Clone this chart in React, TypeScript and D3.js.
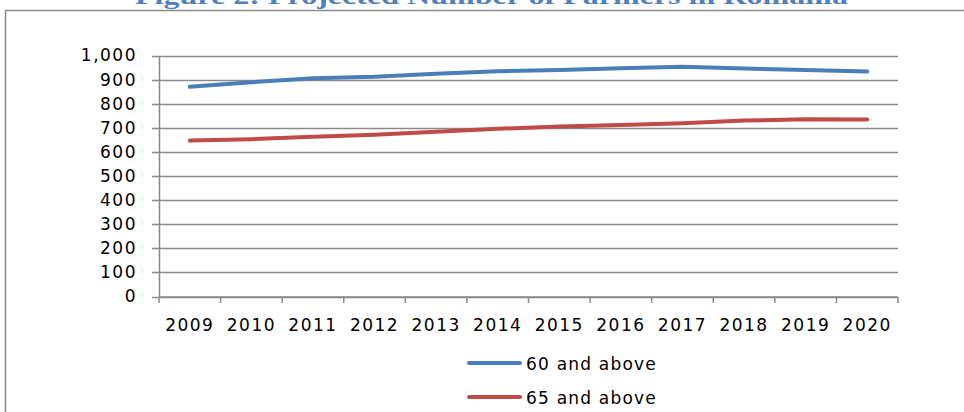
import React, { useEffect, useRef } from "react";
import * as d3 from "d3";

const years = ["2009", "2010", "2011", "2012", "2013", "2014", "2015", "2016", "2017", "2018", "2019", "2020"];
const sixtyAndAbove = [870, 889, 906, 912, 924, 935, 940, 947, 953, 946, 940, 934];
const sixtyFiveAndAbove = [647, 653, 663, 671, 684, 696, 705, 712, 719, 730, 735, 734];
const yTicks = [0, 100, 200, 300, 400, 500, 600, 700, 800, 900, 1000];
const seriesNames = ["60 and above", "65 and above"];
const seriesColors = ["#4A7EBB", "#BE4B48"];
const title = "Figure 2: Projected Number of Farmers in Romania";

const W = 964;
const H = 412;
const gridColor = "#8a8a8a";
const labelFont = "'DejaVu Sans', Verdana, sans-serif";

export default function App() {
  const ref = useRef<SVGSVGElement>(null);

  useEffect(() => {
    const svg = d3.select(ref.current);
    svg.selectAll("*").remove();

    const x = d3.scaleBand().domain(years).range([159, 898]).paddingInner(0).paddingOuter(0);
    const y = d3.scaleLinear().domain([0, 1000]).range([296.5, 55.5]);
    const cx = (d: string) => (x(d) as number) + x.bandwidth() / 2;

    // chart frame
    svg.append("rect")
      .attr("x", 5.5)
      .attr("y", 10.5)
      .attr("width", 1000)
      .attr("height", 500)
      .attr("fill", "white")
      .attr("stroke", gridColor)
      .attr("stroke-width", 1.5);

    // title, cut off at the top edge as in the source image
    svg.append("text")
      .attr("x", 135)
      .attr("y", 3.5)
      .attr("textLength", 713)
      .attr("lengthAdjust", "spacingAndGlyphs")
      .attr("font-family", "'Liberation Serif', 'DejaVu Serif', serif")
      .attr("font-weight", "bold")
      .attr("font-size", 24)
      .attr("fill", "#4F81BD")
      .text(title);

    // gridlines
    svg.append("g")
      .selectAll("line")
      .data(yTicks)
      .enter()
      .append("line")
      .attr("x1", 152)
      .attr("x2", 898)
      .attr("y1", d => Math.round(y(d)) + 0.5)
      .attr("y2", d => Math.round(y(d)) + 0.5)
      .attr("stroke", gridColor)
      .attr("stroke-width", 1.5);

    // y axis
    const yAxis = d3.axisLeft(y).tickValues(yTicks).tickSize(0).tickPadding(22).tickFormat(d3.format(","));
    const gy = svg.append("g").attr("transform", "translate(159,0)").call(yAxis);
    gy.select(".domain").attr("stroke", gridColor).attr("stroke-width", 1.5);
    gy.selectAll("text")
      .attr("font-family", labelFont)
      .attr("font-size", 17)
      .attr("letter-spacing", 1.5)
      .attr("fill", "#000");

    // x axis
    const xAxis = d3.axisBottom(x).tickSize(0).tickPadding(22);
    const gx = svg.append("g").attr("transform", "translate(0,297)").call(xAxis);
    gx.select(".domain").remove();
    gx.selectAll("text")
      .attr("font-family", labelFont)
      .attr("font-size", 17)
      .attr("letter-spacing", 1.5)
      .attr("fill", "#000");

    const bounds = years.map(d => x(d) as number).concat([898]);
    svg.append("g")
      .selectAll("line")
      .data(bounds)
      .enter()
      .append("line")
      .attr("x1", d => d)
      .attr("x2", d => d)
      .attr("y1", 297)
      .attr("y2", 303)
      .attr("stroke", gridColor)
      .attr("stroke-width", 1.5);
    svg.append("line")
      .attr("x1", 159).attr("x2", 898)
      .attr("y1", 297).attr("y2", 297)
      .attr("stroke", gridColor).attr("stroke-width", 1.5);

    // lines
    const line = d3.line<number>()
      .x((d, i) => cx(years[i]))
      .y(d => y(d));

    [sixtyAndAbove, sixtyFiveAndAbove].forEach((values, i) => {
      svg.append("path")
        .datum(values)
        .attr("d", line)
        .attr("fill", "none")
        .attr("stroke", seriesColors[i])
        .attr("stroke-width", 4)
        .attr("stroke-linecap", "round")
        .attr("stroke-linejoin", "round");
    });

    // legend
    const legend = svg.append("g")
      .selectAll("g")
      .data(seriesNames)
      .enter()
      .append("g")
      .attr("transform", (d, i) => `translate(0, ${363 + i * 34})`);
    legend.append("line")
      .attr("x1", 469)
      .attr("x2", 520)
      .attr("y1", 0)
      .attr("y2", 0)
      .attr("stroke", (d, i) => seriesColors[i])
      .attr("stroke-width", 4)
      .attr("stroke-linecap", "round");
    legend.append("text")
      .attr("x", 526)
      .attr("y", 6.5)
      .attr("font-family", labelFont)
      .attr("font-size", 17)
      .attr("letter-spacing", 1.2)
      .attr("fill", "#000")
      .text(d => d);
  }, []);

  return (
    <svg
      ref={ref}
      width={W}
      height={H}
      style={{ position: "absolute", left: 0, top: 0, background: "white" }}
    />
  );
}
